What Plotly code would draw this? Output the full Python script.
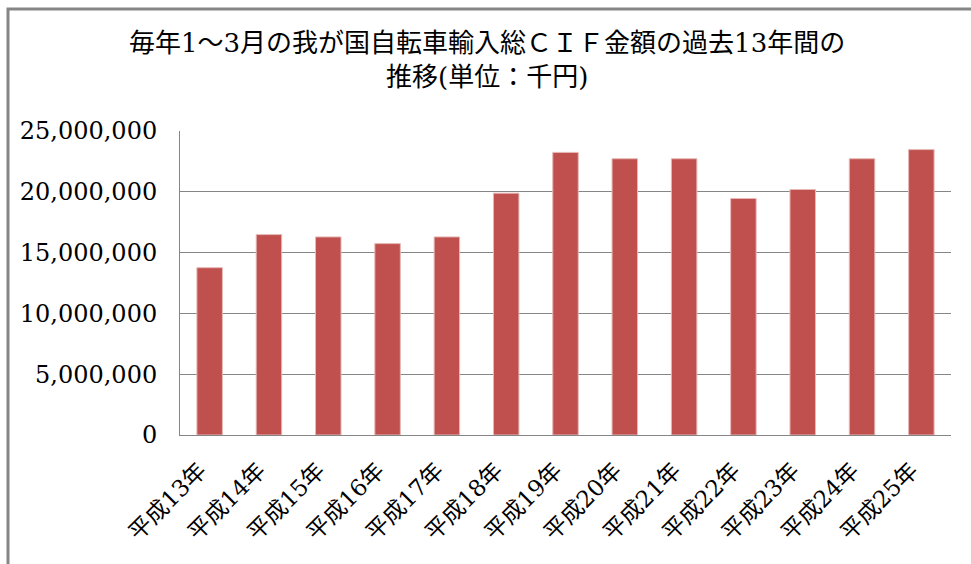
import plotly.graph_objects as go

categories = ["平成13年", "平成14年", "平成15年", "平成16年", "平成17年", "平成18年", "平成19年",
              "平成20年", "平成21年", "平成22年", "平成23年", "平成24年", "平成25年"]
values = [13760000, 16480000, 16290000, 15740000, 16290000, 19890000, 23240000,
          22720000, 22720000, 19450000, 20190000, 22720000, 23470000]
tick_vals = [0, 5000000, 10000000, 15000000, 20000000, 25000000]
tick_text = ["0", "5,000,000", "10,000,000", "15,000,000", "20,000,000", "25,000,000"]
title_line1 = "毎年1～3月の我が国自転車輸入総ＣＩＦ金額の過去13年間の"
title_line2 = "推移(単位：千円)"

FONT = "DejaVu Serif, Liberation Serif, Noto Sans CJK JP"

fig = go.Figure(go.Bar(
    x=categories, y=values,
    marker=dict(color="#C0504D", line=dict(color="#E6B9B8", width=1)),
))

fig.update_layout(
    width=971, height=564,
    margin=dict(l=180, r=20, t=131, b=129, autoexpand=False),
    paper_bgcolor="white", plot_bgcolor="white",
    bargap=0.57,
    showlegend=False,
    font=dict(family=FONT, color="black"),
    xaxis=dict(tickangle=-45, tickfont=dict(size=23, family=FONT), showline=True,
               linecolor="#868686", linewidth=1, ticks="", showgrid=False, automargin=False,
               ticklabelstandoff=12, ticklabelshift=-10),
    yaxis=dict(range=[0, 25000000], tickvals=tick_vals, ticktext=tick_text,
               tickfont=dict(size=24, family=FONT), showgrid=True, gridcolor="#868686",
               gridwidth=1, showline=True, linecolor="#868686", linewidth=1,
               ticks="", zeroline=False, ticklabelstandoff=17, automargin=False),
    annotations=[
        dict(text=title_line1, xref="paper", yref="paper", x=(487 - 180) / 771, y=1 + (131 - 43) / 304,
             xanchor="center", yanchor="middle", showarrow=False,
             font=dict(family=FONT, size=26, color="black")),
        dict(text=title_line2, xref="paper", yref="paper", x=(487 - 180) / 771, y=1 + (131 - 77) / 304,
             xanchor="center", yanchor="middle", showarrow=False,
             font=dict(family=FONT, size=26, color="black")),
    ],
    shapes=[dict(type="rect", xref="paper", yref="paper",
                 x0=-172 / 771, x1=1 + 40 / 771, y0=-150 / 304, y1=1 + 122 / 304,
                 line=dict(color="#868686", width=3), fillcolor="rgba(0,0,0,0)", layer="below")],
)

fig.write_html("out.html", config={"displayModeBar": False},
               post_script="document.body.style.margin='0';")
